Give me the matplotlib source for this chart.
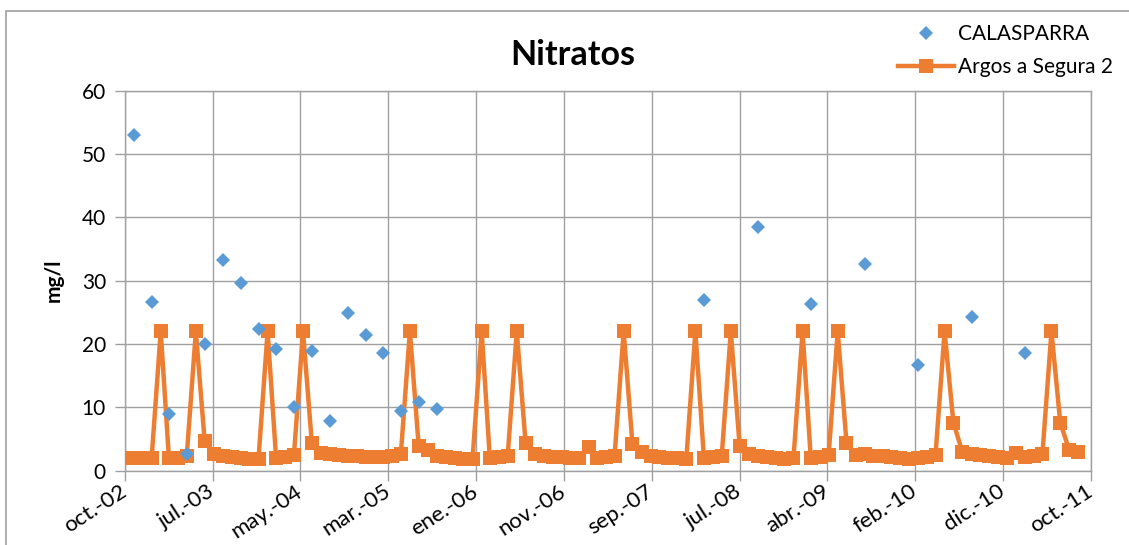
import numpy as np
import pandas as pd
import matplotlib
matplotlib.use('Agg')
import matplotlib.pyplot as plt
import matplotlib.dates as mdates
from matplotlib.patches import Rectangle

plt.rcParams['font.family'] = ['Lato', 'DejaVu Sans']

# CALASPARRA: bimonthly 2002-2005, then half-yearly 2008-2011
cal_dates = ['2002-11-01', '2003-01-01', '2003-03-01', '2003-05-01', '2003-07-01',
             '2003-09-01', '2003-11-01', '2004-01-01', '2004-03-01', '2004-05-01',
             '2004-07-01', '2004-09-01', '2004-11-01', '2005-01-01', '2005-03-01',
             '2005-05-01', '2005-07-01', '2005-09-01', '2008-03-01', '2008-09-01',
             '2009-03-01', '2009-09-01', '2010-03-01', '2010-09-01', '2011-03-01']
cal_vals = [53.0, 26.7, 8.95, 2.6, 20.0, 33.2, 29.6, 22.4, 19.2, 10.0,
            18.9, 7.85, 24.95, 21.5, 18.6, 9.45, 10.85, 9.8, 27.0, 38.5,
            26.4, 32.6, 16.75, 24.2, 18.55]

# Argos a Segura 2: monthly, oct-2002 .. sep-2011
argos_start = '2002-10-01'
argos_vals = [2.0, 2.0, 2.0, 2.0, 22, 2.0, 2.0, 2.4, 22, 4.7,       # oct02-jul03
              2.7, 2.3, 2.1, 2.0, 1.9, 1.9, 22, 2.0, 2.1, 2.5,      # aug03-may04
              22, 4.4, 2.8, 2.6, 2.5, 2.4, 2.3, 2.2, 2.2, 2.2,      # jun04-mar05
              2.3, 2.6, 22, 3.9, 3.3, 2.3, 2.1, 2.0, 1.9, 1.9,      # apr05-jan06
              22, 2.0, 2.1, 2.4, 22, 4.4, 2.6, 2.3, 2.2, 2.1,       # feb06-nov06
              2.0, 2.0, 3.8, 2.0, 2.2, 2.4, 22, 4.2, 3.0, 2.3,      # dec06-sep07
              2.1, 2.0, 2.0, 1.9, 22, 2.0, 2.1, 2.4, 22, 3.9,       # oct07-jul08
              2.6, 2.3, 2.1, 2.0, 1.9, 2.0, 22, 2.0, 2.2, 2.5,      # aug08-may09
              22, 4.4, 2.5, 2.6, 2.4, 2.3, 2.1, 2.0, 1.9, 2.0,      # jun09-mar10
              2.1, 2.5, 22, 7.6, 2.9, 2.7, 2.5, 2.3, 2.1, 2.0,      # apr10-jan11
              2.8, 2.1, 2.4, 2.6, 22, 7.6, 3.2, 3.0]                # feb11-sep11

tick_labels = ['oct.-02', 'jul.-03', 'may.-04', 'mar.-05', 'ene.-06', 'nov.-06',
               'sep.-07', 'jul.-08', 'abr.-09', 'feb.-10', 'dic.-10', 'oct.-11']

cal_x = pd.to_datetime(cal_dates)
argos_x = pd.date_range(argos_start, periods=len(argos_vals), freq='MS')

grid_col = '#a0a0a0'
blue = '#5B9BD5'
orange = '#ED7D31'

fig = plt.figure(figsize=(11.29, 5.45), dpi=100)
ax = fig.add_axes([124.7 / 1129, 1 - 470.7 / 545, (1091 - 124.7) / 1129, 380 / 545])

ax.plot(argos_x, argos_vals, color=orange, lw=3.2, marker='s', ms=10.5,
        mec=orange, mew=0, label='Argos a Segura 2', zorder=3)
ax.plot(cal_x, cal_vals, ls='none', marker='D', ms=7.4, color=blue,
        mec=blue, mew=0, label='CALASPARRA', zorder=4)

x0 = mdates.date2num(pd.Timestamp('2002-10-01'))
ticks = x0 + 300 * np.arange(len(tick_labels))
ax.set_xlim(ticks[0], ticks[-1])
ax.set_xticks(ticks)
ax.set_xticklabels(tick_labels, rotation=33, ha='right', va='center',
                   rotation_mode='anchor', fontsize=16)
ax.set_ylim(0, 60)
ax.set_yticks(np.arange(0, 61, 10))

ax.grid(True, color=grid_col, lw=1.0, zorder=0)
ax.set_axisbelow(True)
for s in ax.spines.values():
    s.set_color(grid_col)
    s.set_linewidth(1.0)
ax.tick_params(axis='both', color=grid_col, length=7.5, width=1.0,
               labelcolor='black')
ax.tick_params(axis='y', pad=6, labelsize=15)
ax.tick_params(axis='x', pad=6)

ax.set_ylabel('mg/l', fontsize=15, fontweight='bold', labelpad=13)
fig.text(573 / 1129, 1 - 55 / 545, 'Nitratos', fontsize=24.5, fontweight='bold',
         ha='center', va='center')

h, l = ax.get_legend_handles_labels()
fig.legend(h[::-1], l[::-1], loc='upper left', bbox_to_anchor=(898 / 1129, 1 - 24 / 545),
           frameon=False, fontsize=15, handlelength=2.7, handletextpad=0.2,
           labelspacing=0.62, borderaxespad=0, borderpad=0)

fig.patches.append(Rectangle((6 / 1129, -0.1), 1.2, 1 - 11 / 545 + 0.1,
                             transform=fig.transFigure, fill=False,
                             edgecolor=grid_col, lw=1.2))

fig.savefig('out.png', dpi=100)
